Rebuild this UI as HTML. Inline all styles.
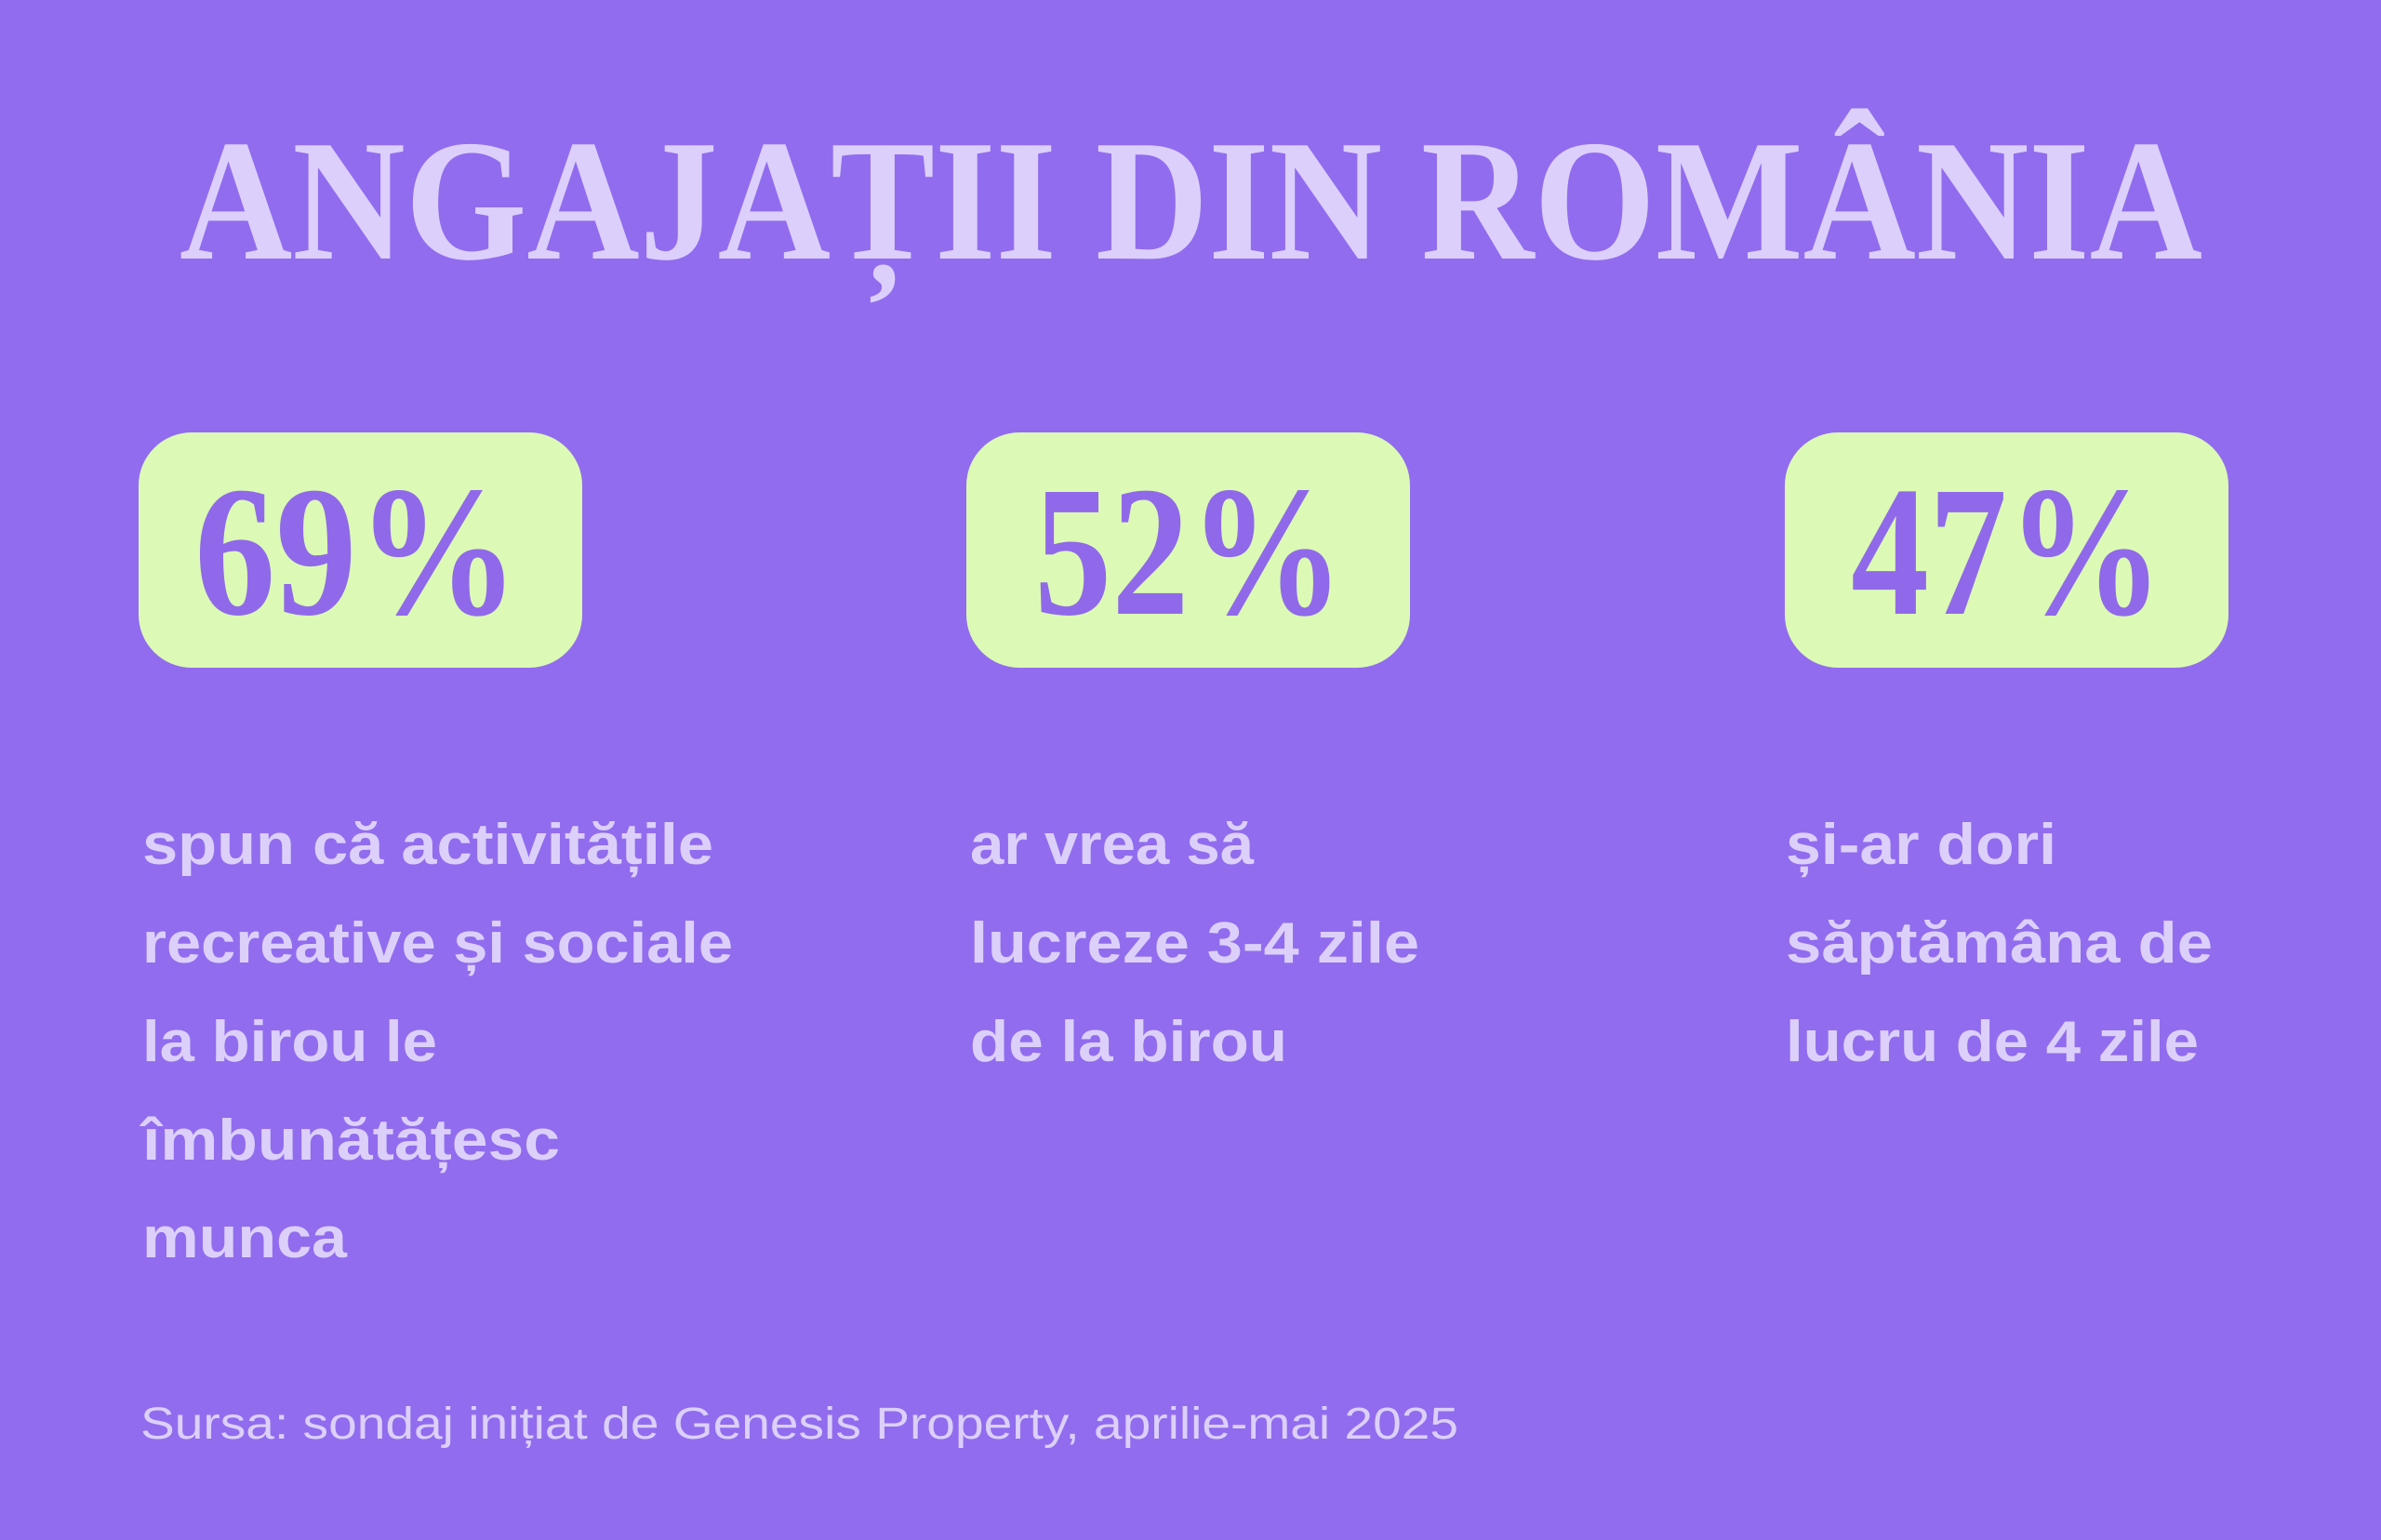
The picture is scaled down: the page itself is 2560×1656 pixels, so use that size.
<!DOCTYPE html>
<html><head><meta charset="utf-8"><style>
html,body{margin:0;padding:0;background:#916cee;}
svg{display:block}
</style></head><body>
<svg width="2560" height="1656" viewBox="0 0 2560 1656" xmlns="http://www.w3.org/2000/svg">
<rect width="2560" height="1656" fill="#916cee"/>
<text x="193" y="278" font-family="Liberation Serif, serif" font-weight="bold" font-size="186" fill="#dccffc" textLength="2175" lengthAdjust="spacingAndGlyphs">ANGAJAȚII DIN ROMÂNIA</text>
<g fill="#dcfab5">
<rect x="149" y="465" width="477" height="253" rx="57"/>
<rect x="1039" y="465" width="477" height="253" rx="57"/>
<rect x="1919" y="465" width="477" height="253" rx="57"/>
</g>
<g font-family="Liberation Serif, serif" font-weight="bold" font-size="200" fill="#9069ea">
<text x="209" y="660" textLength="349" lengthAdjust="spacingAndGlyphs">69%</text>
<text x="1112" y="660" textLength="333" lengthAdjust="spacingAndGlyphs">52%</text>
<text x="1990" y="660" textLength="336" lengthAdjust="spacingAndGlyphs">47%</text>
</g>
<g font-family="Liberation Sans, sans-serif" font-weight="bold" font-size="62" fill="#dcd0fb">
<text x="153" y="929" textLength="614" lengthAdjust="spacingAndGlyphs">spun că activitățile</text>
<text x="153" y="1035" textLength="635" lengthAdjust="spacingAndGlyphs">recreative și sociale</text>
<text x="153" y="1141" textLength="317" lengthAdjust="spacingAndGlyphs">la birou le</text>
<text x="153" y="1247" textLength="449" lengthAdjust="spacingAndGlyphs">îmbunătățesc</text>
<text x="153" y="1352" textLength="220" lengthAdjust="spacingAndGlyphs">munca</text>
<text x="1043" y="929" textLength="305" lengthAdjust="spacingAndGlyphs">ar vrea să</text>
<text x="1043" y="1035" textLength="483" lengthAdjust="spacingAndGlyphs">lucreze 3-4 zile</text>
<text x="1043" y="1141" textLength="341" lengthAdjust="spacingAndGlyphs">de la birou</text>
<text x="1920" y="929" textLength="291" lengthAdjust="spacingAndGlyphs">și-ar dori</text>
<text x="1920" y="1035" textLength="459" lengthAdjust="spacingAndGlyphs">săptămâna de</text>
<text x="1920" y="1141" textLength="444" lengthAdjust="spacingAndGlyphs">lucru de 4 zile</text>
</g>
<text x="151" y="1547" font-family="Liberation Sans, sans-serif" font-size="48" fill="#dcd0fb" textLength="1417" lengthAdjust="spacingAndGlyphs">Sursa: sondaj inițiat de Genesis Property, aprilie-mai 2025</text>
</svg>
</body></html>
